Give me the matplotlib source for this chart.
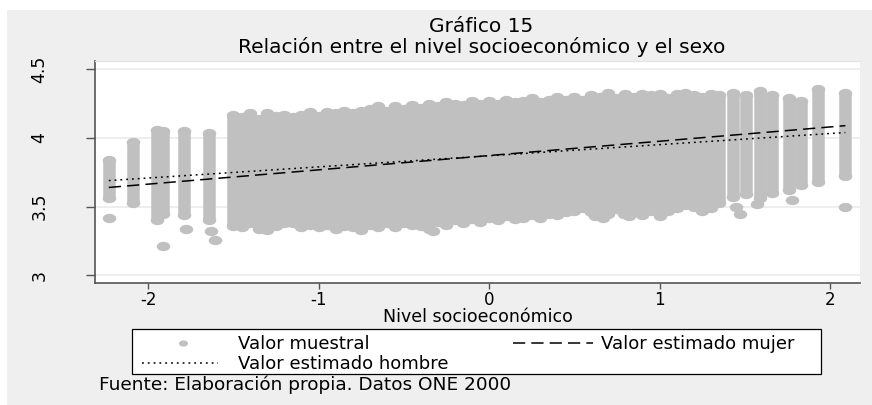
import numpy as np
import matplotlib
matplotlib.use("Agg")
import matplotlib.pyplot as plt
from matplotlib.patches import Rectangle
from matplotlib.lines import Line2D
from matplotlib.path import Path
from matplotlib.transforms import Affine2D

plt.rcParams['font.family'] = ['DejaVu Sans']
plt.rcParams['axes.unicode_minus'] = False

# --- data -------------------------------------------------------------
title_1 = "Gráfico 15"
title_2 = "Relación entre el nivel socioeconómico y el sexo"
x_label = "Nivel socioeconómico"
source = "Fuente: Elaboración propia. Datos ONE 2000"
legend_labels = ["Valor muestral", "Valor estimado hombre", "Valor estimado mujer"]

x_ticks = [-2, -1, 0, 1, 2]
y_ticks = [3, 3.5, 4, 4.5]

# sample values grouped by socioeconomic level: column position, lowest and highest score
col_x = [-2.23, -2.09, -1.95, -1.91, -1.79, -1.64,
         -1.50, -1.45, -1.40, -1.35, -1.30, -1.25, -1.20, -1.15, -1.10, -1.05,
         -1.00, -0.95, -0.90, -0.85, -0.80, -0.75, -0.70, -0.65, -0.60, -0.55,
         -0.50, -0.45, -0.40, -0.35, -0.30, -0.25, -0.20, -0.15, -0.10, -0.05,
         0.00, 0.05, 0.10, 0.15, 0.20, 0.25, 0.30, 0.35, 0.40, 0.45,
         0.50, 0.55, 0.60, 0.65, 0.70, 0.75, 0.80, 0.85, 0.90, 0.95,
         1.00, 1.05, 1.10, 1.15, 1.20, 1.25, 1.30, 1.35,
         1.43, 1.51, 1.59, 1.66, 1.76, 1.83, 1.93, 2.09]
col_hi = [3.84, 3.97, 4.06, 4.05, 4.05, 4.04,
          4.17, 4.15, 4.18, 4.14, 4.18, 4.16, 4.17, 4.15, 4.17, 4.19,
          4.16, 4.19, 4.18, 4.20, 4.18, 4.20, 4.21, 4.23, 4.20, 4.23,
          4.21, 4.24, 4.22, 4.25, 4.23, 4.26, 4.25, 4.24, 4.27, 4.25,
          4.27, 4.25, 4.28, 4.26, 4.27, 4.29, 4.26, 4.28, 4.30, 4.28,
          4.30, 4.28, 4.31, 4.30, 4.33, 4.29, 4.32, 4.30, 4.32, 4.31,
          4.32, 4.29, 4.32, 4.33, 4.31, 4.30, 4.32, 4.31,
          4.33, 4.31, 4.34, 4.31, 4.29, 4.27, 4.36, 4.33]
col_lo = [3.56, 3.53, 3.40, 3.45, 3.44, 3.40,
          3.36, 3.35, 3.38, 3.34, 3.33, 3.36, 3.38, 3.38, 3.35, 3.37,
          3.35, 3.37, 3.34, 3.36, 3.35, 3.33, 3.37, 3.35, 3.38, 3.35,
          3.38, 3.37, 3.36, 3.34, 3.39, 3.37, 3.40, 3.38, 3.41, 3.39,
          3.42, 3.40, 3.43, 3.41, 3.42, 3.44, 3.42, 3.45, 3.44, 3.46,
          3.47, 3.49, 3.46, 3.47, 3.45, 3.48, 3.45, 3.47, 3.44, 3.47,
          3.43, 3.47, 3.49, 3.51, 3.50, 3.47, 3.49, 3.53,
          3.57, 3.59, 3.56, 3.60, 3.62, 3.66, 3.68, 3.72]

# isolated sample values outside the columns
out_x = [-2.23, -1.91, -1.78, -1.63, -1.61, -0.33, 0.62, 0.67, 0.79, 0.82,
         1.45, 1.47, 1.57, 1.78, 2.09]
out_y = [3.42, 3.21, 3.34, 3.32, 3.26, 3.32, 3.43, 3.42, 3.45, 3.43,
         3.50, 3.45, 3.52, 3.55, 3.50]

# fitted lines by sex
fit_x = [-2.23, 2.09]
fit_mujer = [3.64, 4.09]
fit_hombre = [3.69, 4.04]

# --- style ------------------------------------------------------------
W, H = 872, 405
GREY_BG = '#EFEFEF'
DOT = '#C0C0C0'
AXIS = '#555555'
GRID = '#EAEAEA'

def fx(px):
    return px / W

def fy(py):
    return 1 - py / H

# wide oval marker
oval = Path.unit_circle().transformed(Affine2D().scale(1.45, 1.0))

fig = plt.figure(figsize=(W / 100, H / 100), dpi=100)
fig.patch.set_facecolor('white')
fig.add_artist(Rectangle((fx(7), 0), 1 - fx(7), fy(10), transform=fig.transFigure,
                         facecolor=GREY_BG, edgecolor='none', zorder=-10))

ax = fig.add_axes([fx(95), fy(283), fx(860) - fx(95), fy(61) - fy(283)])
ax.set_facecolor('white')
ax.set_xlim(-2.311, 2.176)
ax.set_ylim(2.944, 4.561)

for yv in y_ticks:
    ax.axhline(yv, color=GRID, lw=1.1, zorder=0)

segs = ax.vlines(col_x, col_lo, col_hi, colors=DOT, lw=9.0, zorder=2)
segs.set_capstyle('butt')
ax.scatter(col_x + col_x, col_lo + col_hi, marker=oval, s=95, color=DOT,
           linewidths=0, zorder=2)
ax.scatter(out_x, out_y, marker=oval, s=95, color=DOT, linewidths=0, zorder=2)

ax.plot(fit_x, fit_mujer, color='black', lw=1.1, dashes=(8, 4), zorder=3)
ax.plot(fit_x, fit_hombre, color='black', lw=1.1, dashes=(1.2, 2.6), zorder=3)

ax.spines['right'].set_visible(False)
ax.spines['top'].set_color('#E2E2E2')
ax.spines['left'].set_color(AXIS)
ax.spines['bottom'].set_color(AXIS)
ax.spines['left'].set_linewidth(1.2)
ax.spines['bottom'].set_linewidth(1.2)

ax.set_xticks(x_ticks)
ax.set_xticklabels([str(v) for v in x_ticks])
ax.set_yticks(y_ticks)
ax.set_yticklabels(['3', '3.5', '4', '4.5'], rotation=90, va='center')
ax.tick_params(axis='x', length=4, width=1, color=AXIS, labelsize=12, pad=2)
ax.tick_params(axis='y', length=6.5, width=1, color=AXIS, labelsize=12.5, pad=27)

ax.set_xlabel(x_label, fontsize=12.5)
ax.xaxis.set_label_coords(0.5, (283 - 317) / 222)
ax.xaxis.label.set_va('center')

fig.text(0.552, fy(27), title_1, ha='center', va='center', fontsize=14.5)
fig.text(0.552, fy(47), title_2, ha='center', va='center', fontsize=14.5)

# legend
fig.add_artist(Rectangle((fx(132), fy(374)), fx(821) - fx(132), fy(329) - fy(374),
                         transform=fig.transFigure, facecolor='white',
                         edgecolor='black', lw=0.9))
fig.add_artist(Line2D([fx(183)], [fy(343)], marker=oval, markersize=6.5,
                      color=DOT, markeredgewidth=0, linestyle='none',
                      transform=fig.transFigure))
fig.add_artist(Line2D([fx(142), fx(218)], [fy(363), fy(363)], color='black',
                      lw=1.1, dashes=(1.2, 2.6), transform=fig.transFigure))
fig.add_artist(Line2D([fx(513), fx(593)], [fy(343), fy(343)], color='black',
                      lw=1.1, dashes=(8, 4), transform=fig.transFigure))
fig.text(fx(238), fy(344), legend_labels[0], ha='left', va='center', fontsize=13)
fig.text(fx(238), fy(364), legend_labels[1], ha='left', va='center', fontsize=13)
fig.text(fx(601), fy(344), legend_labels[2], ha='left', va='center', fontsize=13)

fig.text(fx(99), fy(385), source, ha='left', va='center', fontsize=13.3)

fig.savefig('out.png', dpi=100, facecolor=fig.get_facecolor())
